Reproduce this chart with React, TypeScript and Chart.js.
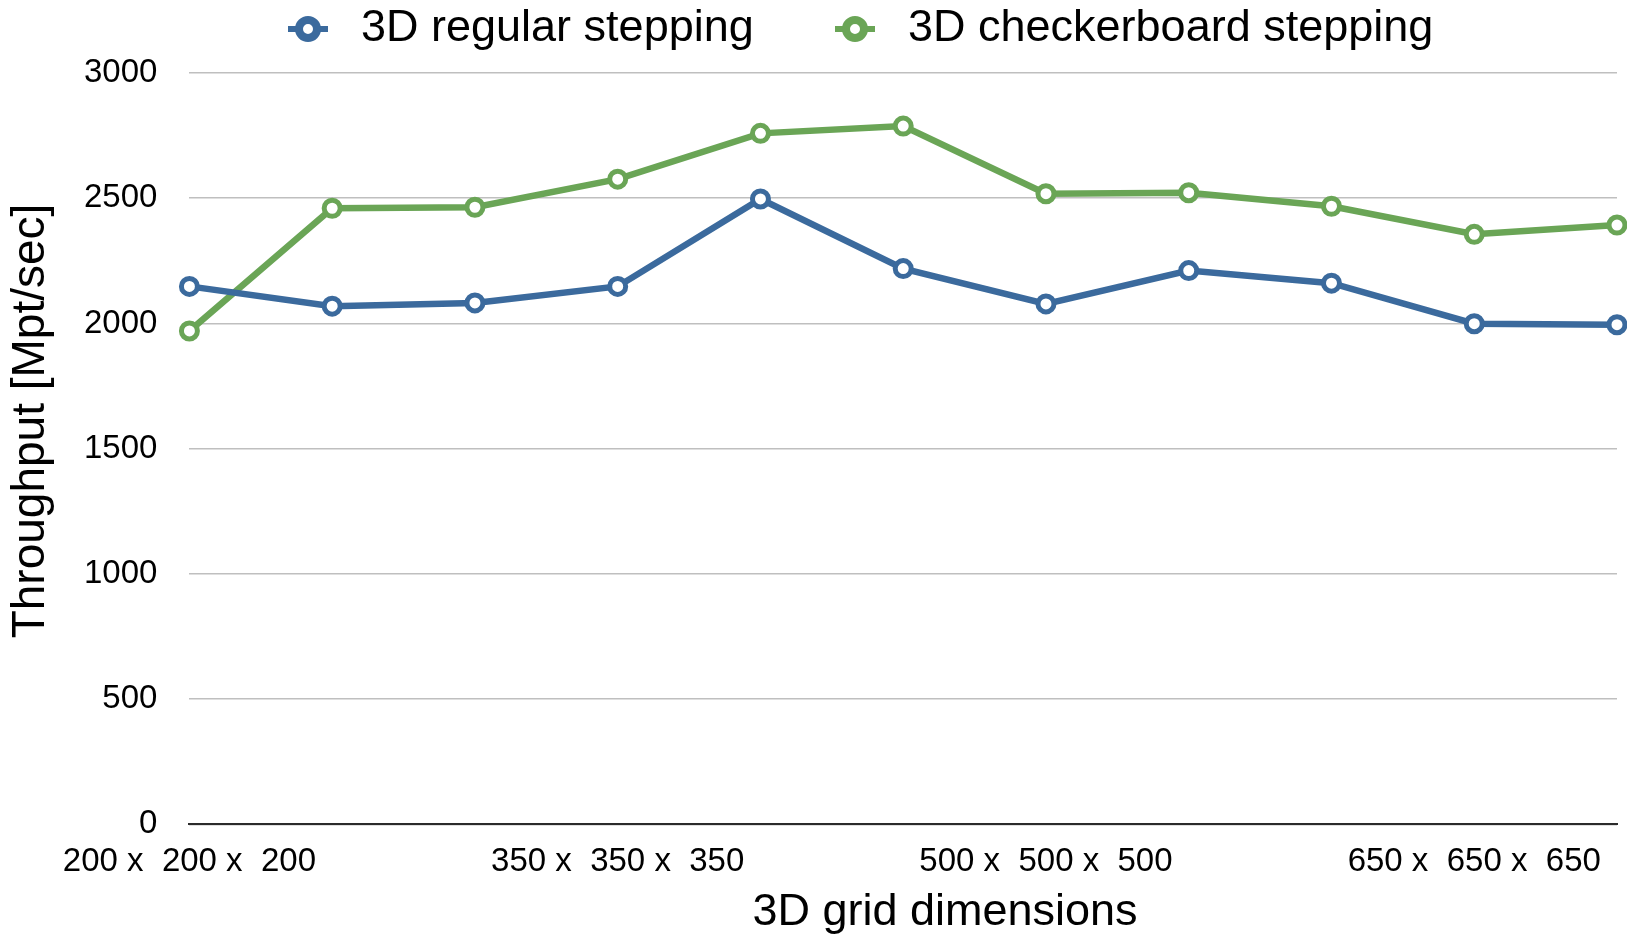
import { useEffect, useRef } from 'react';
import { Chart, registerables } from 'chart.js';

Chart.register(...registerables);

const FONT = '"Liberation Sans", Arial, Helvetica, sans-serif';

// Cubic grid edge lengths along the x axis
const gridSizes = [200, 250, 300, 350, 400, 450, 500, 550, 600, 650, 700];
const categories = gridSizes.map((n) => `${n} x  ${n} x  ${n}`);
const labelEvery = 3;

// Throughput in Mpt/sec
const regularStepping = [2148, 2069, 2082, 2148, 2497, 2219, 2078, 2211, 2161, 1999, 1995];
const checkerboardStepping = [1970, 2460, 2464, 2576, 2759, 2788, 2518, 2522, 2468, 2356, 2393];

const seriesNames = ['3D regular stepping', '3D checkerboard stepping'];
const seriesColors = ['#3B6A9D', '#6AA556'];

const xTitle = '3D grid dimensions';
const yTitle = 'Throughput [Mpt/sec]';
const yMin = 0;
const yMax = 3000;
const yStep = 500;

// Legend row and axis titles drawn on the canvas after the chart
const annotations = {
  id: 'annotations',
  afterDraw(chart: any) {
    const ctx = chart.ctx as CanvasRenderingContext2D;
    ctx.save();
    ctx.textBaseline = 'middle';
    ctx.font = `45px ${FONT}`;

    const legendX = [308, 855];
    const legendY = 29;
    chart.data.datasets.forEach((ds: any, i: number) => {
      const cx = legendX[i];
      ctx.strokeStyle = ds.borderColor;
      ctx.lineWidth = 6;
      ctx.beginPath();
      ctx.moveTo(cx - 20, legendY);
      ctx.lineTo(cx - 9, legendY);
      ctx.moveTo(cx + 9, legendY);
      ctx.lineTo(cx + 20, legendY);
      ctx.stroke();
      ctx.beginPath();
      ctx.arc(cx, legendY, 9, 0, Math.PI * 2);
      ctx.fillStyle = '#ffffff';
      ctx.fill();
      ctx.lineWidth = 8;
      ctx.stroke();
      ctx.fillStyle = '#000000';
      ctx.textAlign = 'left';
      ctx.fillText(ds.label, cx + 53, legendY);
    });

    ctx.fillStyle = '#000000';
    ctx.textAlign = 'center';
    ctx.fillText(xTitle, 945, 913);

    ctx.font = `46px ${FONT}`;
    ctx.translate(31, 421);
    ctx.rotate(-Math.PI / 2);
    ctx.fillText(yTitle, 0, 0);
    ctx.restore();
  },
};

export default function App() {
  const canvasRef = useRef<HTMLCanvasElement | null>(null);

  useEffect(() => {
    if (!canvasRef.current) return;
    Chart.defaults.font.family = FONT;
    Chart.defaults.color = '#000000';

    const seriesStyle = (color: string) => ({
      borderColor: color,
      backgroundColor: color,
      borderWidth: 6.5,
      pointRadius: 8,
      pointHoverRadius: 8,
      pointBorderWidth: 5,
      pointBackgroundColor: '#ffffff',
      pointBorderColor: color,
      tension: 0,
      clip: false as const,
    });

    const chart = new Chart(canvasRef.current, {
      type: 'line',
      data: {
        labels: categories,
        datasets: [
          { label: seriesNames[0], data: regularStepping, ...seriesStyle(seriesColors[0]) },
          { label: seriesNames[1], data: checkerboardStepping, ...seriesStyle(seriesColors[1]) },
        ],
      },
      options: {
        animation: false,
        responsive: true,
        maintainAspectRatio: false,
        layout: { autoPadding: false, padding: { top: 73, right: 10, bottom: 38, left: 52 } },
        plugins: {
          legend: { display: false },
          tooltip: { enabled: false },
        },
        scales: {
          x: {
            offset: false,
            grid: { display: false, drawTicks: false },
            border: { display: true, color: '#2b2b2b', width: 2 },
            // the last category has no label, so the plot may run to the right edge
            afterFit: (scale: any) => {
              scale.paddingRight = 0;
            },
            ticks: {
              autoSkip: false,
              maxRotation: 0,
              minRotation: 0,
              padding: 18,
              font: { size: 33 },
              color: '#000000',
              callback: (_v: any, i: number) => (i % labelEvery === 0 ? categories[i] : ''),
            },
          },
          y: {
            min: yMin,
            max: yMax,
            grid: { color: '#bfbfbf', lineWidth: 1.5, drawTicks: false },
            border: { display: false },
            ticks: {
              stepSize: yStep,
              padding: 32,
              font: { size: 33 },
              color: '#000000',
              callback: (v: any) => String(v),
            },
          },
        },
      },
      plugins: [annotations],
    });

    return () => chart.destroy();
  }, []);

  return (
    <div style={{ position: 'fixed', left: 0, top: 0, width: 1627, height: 938, background: '#ffffff' }}>
      <canvas ref={canvasRef} />
    </div>
  );
}
